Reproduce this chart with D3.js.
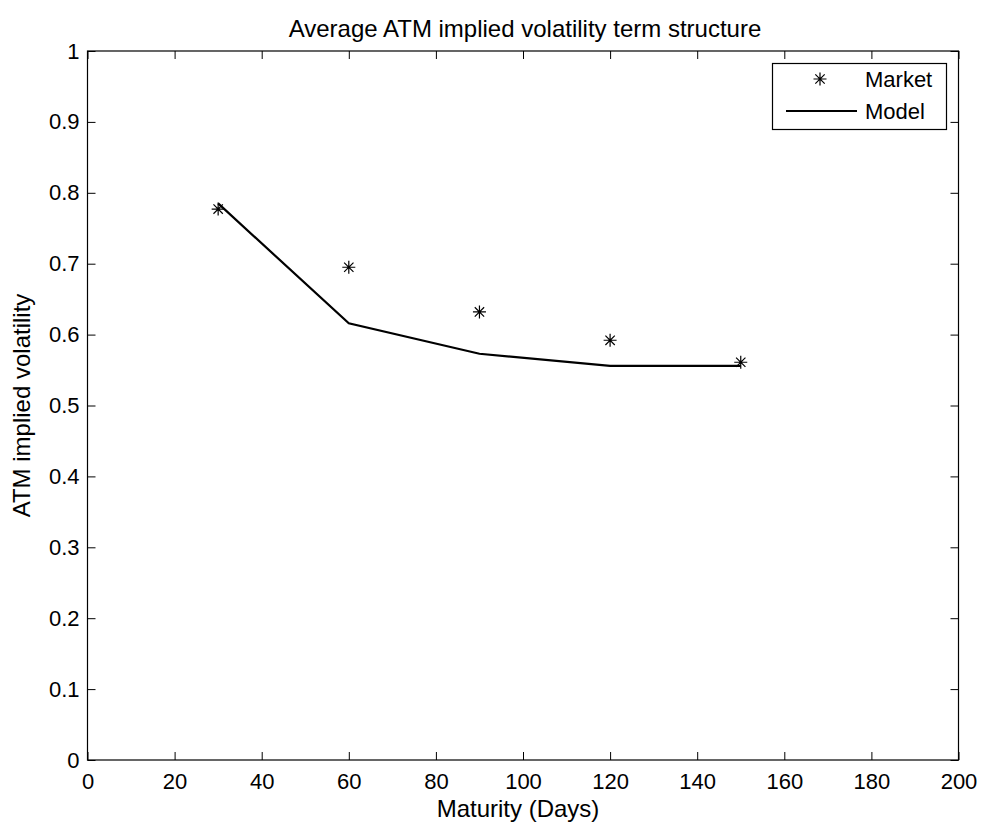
<!DOCTYPE html>
<html>
<head>
<meta charset="utf-8">
<script src="https://cdn.jsdelivr.net/npm/d3@7"></script>
<style>
  html, body { margin: 0; padding: 0; background: #fff; }
  svg { display: block; font-family: "Liberation Sans", Arial, Helvetica, sans-serif; }
</style>
</head>
<body>
<svg id="chart" width="983" height="825"></svg>
<script>
const maturities = [30, 60, 90, 120, 150];
const marketVol = [0.777, 0.695, 0.632, 0.592, 0.561];
const modelVol = [0.785, 0.616, 0.573, 0.556, 0.556];
const xTicks = [0, 20, 40, 60, 80, 100, 120, 140, 160, 180, 200];
const yTicks = [0, 0.1, 0.2, 0.3, 0.4, 0.5, 0.6, 0.7, 0.8, 0.9, 1];
const seriesNames = ["Market", "Model"];
const titleText = "Average ATM implied volatility term structure";
const xLabelText = "Maturity (Days)";
const yLabelText = "ATM implied volatility";

const svg = d3.select("#chart");
const L = 87.5, R = 958.5, T = 51, B = 760;
const x = d3.scaleLinear().domain([0, 200]).range([L, R]);
const y = d3.scaleLinear().domain([0, 1]).range([B, T]);
const fs = 22;
const fsLabel = 24;
const tickLen = 8;

// Axes frame
svg.append("rect").attr("x", L).attr("y", T).attr("width", R - L).attr("height", B - T)
  .attr("fill", "#fff").attr("stroke", "#000").attr("stroke-width", 1.2);

// bottom axis
svg.append("g").attr("transform", `translate(0,${B})`)
  .call(d3.axisBottom(x).tickValues(xTicks).tickSizeInner(-tickLen).tickSizeOuter(0).tickPadding(13).tickFormat(d3.format("d")));
// top ticks
svg.append("g").attr("transform", `translate(0,${T})`)
  .call(d3.axisTop(x).tickValues(xTicks).tickSizeInner(-tickLen).tickSizeOuter(0).tickFormat(""));
// left axis
svg.append("g").attr("transform", `translate(${L},0)`)
  .call(d3.axisLeft(y).tickValues(yTicks).tickSizeInner(-tickLen).tickSizeOuter(0).tickPadding(8).tickFormat(d => d === 0 || d === 1 ? d3.format("d")(d) : d3.format(".1f")(d)));
// right ticks
svg.append("g").attr("transform", `translate(${R},0)`)
  .call(d3.axisRight(y).tickValues(yTicks).tickSizeInner(-tickLen).tickSizeOuter(0).tickFormat(""));

svg.selectAll(".domain").remove();
svg.selectAll(".tick line").attr("stroke", "#000").attr("stroke-width", 1);
svg.selectAll(".tick text").attr("font-size", fs).attr("fill", "#000")
  .attr("font-family", "Liberation Sans, Arial, sans-serif");

// Model line
const line = d3.line().x((d, i) => x(maturities[i])).y(d => y(d));
svg.append("path").datum(modelVol).attr("d", line)
  .attr("fill", "none").attr("stroke", "#000").attr("stroke-width", 2.2).attr("stroke-linejoin", "miter");

// Market asterisks
function asterisk(cx, cy, r) {
  const d = r * 0.72;
  return `M${cx - r},${cy}L${cx + r},${cy}M${cx},${cy - r}L${cx},${cy + r}` +
         `M${cx - d},${cy - d}L${cx + d},${cy + d}M${cx - d},${cy + d}L${cx + d},${cy - d}`;
}
svg.append("g").selectAll("path").data(marketVol).join("path")
  .attr("d", (d, i) => asterisk(x(maturities[i]), y(d), 6.5))
  .attr("stroke", "#000").attr("stroke-width", 1.2).attr("fill", "none");

// Title & labels
svg.append("text").attr("x", (L + R) / 2 + 2).attr("y", 37).attr("text-anchor", "middle")
  .attr("font-size", fsLabel).text(titleText);
svg.append("text").attr("x", (L + R) / 2 - 5).attr("y", 817).attr("text-anchor", "middle")
  .attr("font-size", fsLabel).text(xLabelText);
svg.append("text").attr("transform", `translate(30,${(T + B) / 2}) rotate(-90)`).attr("text-anchor", "middle")
  .attr("font-size", fsLabel).text(yLabelText);

// Legend
const lg = svg.append("g");
lg.append("rect").attr("x", 772.5).attr("y", 63.5).attr("width", 174).attr("height", 66)
  .attr("fill", "#fff").attr("stroke", "#000").attr("stroke-width", 1.2);
lg.append("path").attr("d", asterisk(820, 79, 6.5)).attr("stroke", "#000").attr("stroke-width", 1.2);
lg.append("line").attr("x1", 786).attr("x2", 857).attr("y1", 111).attr("y2", 111)
  .attr("stroke", "#000").attr("stroke-width", 2.2);
lg.append("text").attr("x", 865).attr("y", 87).attr("font-size", fs).text(seriesNames[0]);
lg.append("text").attr("x", 865).attr("y", 119).attr("font-size", fs).text(seriesNames[1]);
</script>
</body>
</html>
